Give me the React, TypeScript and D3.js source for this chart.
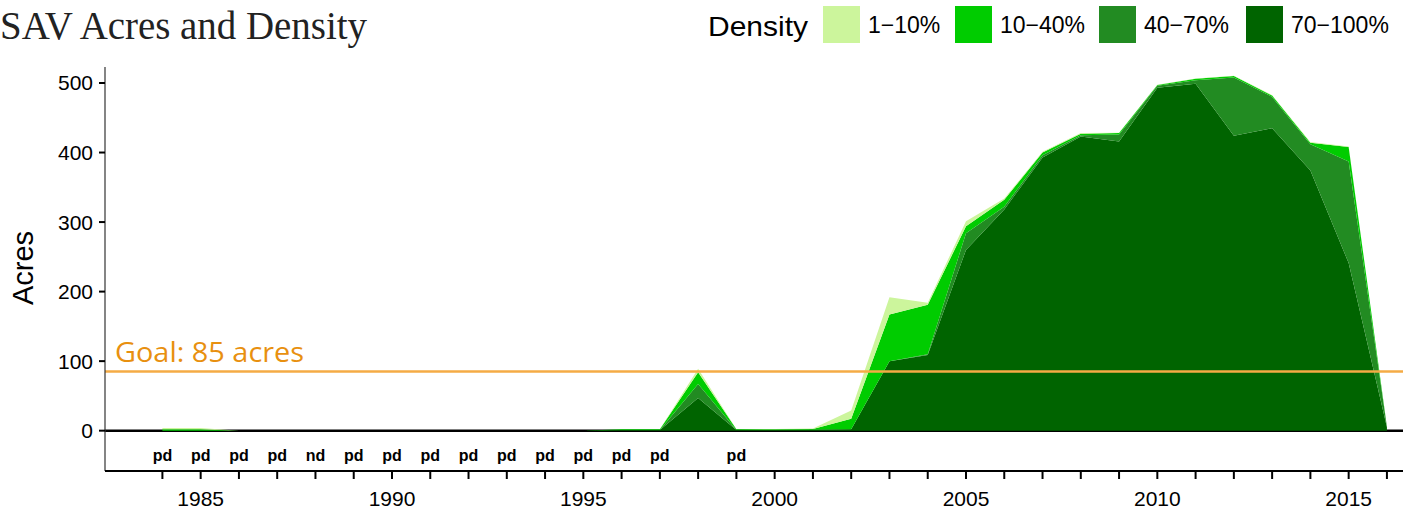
import React from "react";
import * as d3 from "d3";

// SAV acres by density class, 1984-2016
const years = d3.range(1984, 2017);
const dens70_100 = [0, 0, 0, 0, 0, 0, 0, 0, 0, 0, 0, 0, 1, 1, 47, 1, 1, 1.5, 2, 100, 109, 260, 318, 393, 423, 416, 493, 499, 424, 435, 374, 241, 5];
const dens40_70 = [0, 0, 0, 0, 0, 0, 0, 0, 0, 0, 0, 0, 0, 0, 20, 0, 0, 0, 0, 0, 1, 24, 4, 3, 2, 10, 3, 5, 84, 45, 38, 146, 0.5];
const dens10_40 = [2, 2, 0, 0, 0, 0, 0, 0, 0, 0, 0, 0, 1, 1, 17, 1, 1, 1, 15, 67, 71, 10, 10, 4, 2, 2, 1, 2, 2, 2, 2, 21, 0.3];
const dens1_10 = [2, 2, 0, 0, 0, 0, 0, 0, 0, 0, 0, 0, 0, 0, 5, 0, 0.5, 0.5, 12, 25, 3, 7, 2, 1, 1, 0.5, 0.5, 0.5, 0.5, 0.5, 1, 0.5, 0.2];

const densityKeys = ["70-100", "40-70", "10-40", "1-10"];
const legendLabels = ["1\u221210%", "10\u221240%", "40\u221270%", "70\u2212100%"];
const colors: Record<string, string> = {
  "1-10": "#ccf59c",
  "10-40": "#00cc00",
  "40-70": "#228b22",
  "70-100": "#006400",
};

// years with partial / no data
const flagYears = [1984, 1985, 1986, 1987, 1988, 1989, 1990, 1991, 1992, 1993, 1994, 1995, 1996, 1997, 1999];
const flagLabels = ["pd", "pd", "pd", "pd", "nd", "pd", "pd", "pd", "pd", "pd", "pd", "pd", "pd", "pd", "pd"];

const yTicks = [0, 100, 200, 300, 400, 500];
const xLabelYears = [1985, 1990, 1995, 2000, 2005, 2010, 2015];
const goal = 85;

const W = 1408;
const H = 512;
const sans = "'Liberation Sans', Arial, sans-serif";

export default function App() {
  const x = d3.scaleLinear().domain([1982.5, 2016.42]).range([105, 1403]);
  const y = d3.scaleLinear().domain([-58, 523]).range([471, 67]);

  const rows = years.map((yr, i) => ({
    year: yr,
    "70-100": dens70_100[i],
    "40-70": dens40_70[i],
    "10-40": dens10_40[i],
    "1-10": dens1_10[i],
  }));

  const series = d3.stack<any>().keys(densityKeys)(rows);
  const area = d3
    .area<any>()
    .x((d) => x(d.data.year))
    .y0((d) => y(d[0]))
    .y1((d) => y(d[1]));

  const legendKeys = ["1-10", "10-40", "40-70", "70-100"];
  const legendX = [823, 955, 1099, 1246];

  return (
    <div style={{ position: "absolute", left: 0, top: 0 }}>
      <svg width={W} height={H} style={{ display: "block" }}>
        <rect width={W} height={H} fill="#fff" />
        <text x={0} y={39} fontFamily="'Liberation Serif', 'DejaVu Serif', serif" fontSize={40} fill="#222" textLength={367} lengthAdjust="spacingAndGlyphs">
          SAV Acres and Density
        </text>

        {/* legend */}
        <text x={708} y={36} fontFamily={sans} fontSize={28} fill="#000" textLength={100} lengthAdjust="spacingAndGlyphs">
          Density
        </text>
        {legendKeys.map((k, i) => (
          <g key={k}>
            <rect x={legendX[i]} y={6} width={37} height={37} fill={colors[k]} />
            <text x={legendX[i] + 45} y={33} fontFamily={sans} fontSize={23} fill="#000">
              {legendLabels[i]}
            </text>
          </g>
        ))}

        {/* zero line */}
        <line x1={105} x2={1403} y1={y(0)} y2={y(0)} stroke="#000" strokeWidth={2.5} />

        {series.map((s) => (
          <path key={s.key} d={area(s) || ""} fill={colors[s.key]} />
        ))}

        {/* goal */}
        <line x1={105} x2={1403} y1={y(goal)} y2={y(goal)} stroke="#f5ab45" strokeWidth={2.5} />
        <text x={115} y={362} fontFamily="'Open Sans', 'Noto Sans', sans-serif" fontSize={27} fill="#e8900f" textLength={189} lengthAdjust="spacingAndGlyphs">
          Goal: 85 acres
        </text>

        {/* flags */}
        {flagYears.map((yr, i) => (
          <text key={yr} x={x(yr)} y={461} textAnchor="middle" fontFamily={sans} fontWeight="bold" fontSize={16} fill="#000">
            {flagLabels[i]}
          </text>
        ))}

        {/* y axis */}
        <line x1={105} x2={105} y1={67} y2={471} stroke="#333" strokeWidth={1.2} />
        {yTicks.map((t) => (
          <g key={t}>
            <line x1={99} x2={105} y1={y(t)} y2={y(t)} stroke="#000" strokeWidth={2} />
            <text x={93} y={y(t) + 7.5} textAnchor="end" fontFamily={sans} fontSize={21} fill="#000">
              {t}
            </text>
          </g>
        ))}
        <text transform={`translate(33,268) rotate(-90)`} textAnchor="middle" fontFamily={sans} fontSize={29} fill="#000">
          Acres
        </text>

        {/* x axis */}
        <line x1={105} x2={1403} y1={471} y2={471} stroke="#000" strokeWidth={2} />
        {years.map((yr) => (
          <line key={yr} x1={x(yr)} x2={x(yr)} y1={471} y2={479} stroke="#000" strokeWidth={2} />
        ))}
        {xLabelYears.map((yr) => (
          <text key={yr} x={x(yr)} y={506} textAnchor="middle" fontFamily={sans} fontSize={21} fill="#000">
            {yr}
          </text>
        ))}
      </svg>
    </div>
  );
}
